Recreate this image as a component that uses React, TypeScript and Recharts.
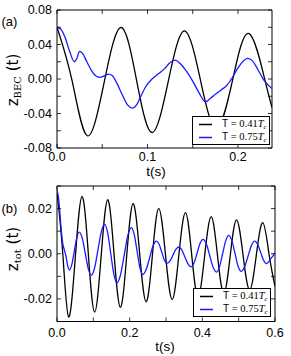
import { LineChart, Line, XAxis, YAxis, ReferenceArea, Label } from "recharts";

// panel (a): z_BEC(t)
const aBlackT = [0, 0.0169, 0.0338, 0.05225, 0.0707, 0.0879, 0.105, 0.1229, 0.1407, 0.1584, 0.176, 0.1939, 0.2117, 0.2294, 0.2376];
const aBlackZ = [0.06, -0.003, -0.066, -0.0032, 0.0597, -0.0012, -0.062, -0.003, 0.0559, -0.0006, -0.057, -0.002, 0.0529, 0.0004, -0.033];
const aBlueT = [0, 0.004, 0.009, 0.014, 0.0191, 0.022, 0.025, 0.028, 0.033, 0.038, 0.0423, 0.047, 0.052, 0.057, 0.061, 0.066, 0.072, 0.078, 0.0835, 0.088, 0.092, 0.098, 0.105, 0.112, 0.119, 0.125, 0.1307, 0.136, 0.143, 0.151, 0.157, 0.1639, 0.17, 0.175, 0.181, 0.1878, 0.194, 0.2, 0.206, 0.2106, 0.216, 0.222, 0.229, 0.2376];
const aBlueZ = [0.06, 0.058, 0.048, 0.032, 0.02, 0.024, 0.032, 0.03, 0.02, 0.01, 0.004, 0.002, 0.0035, 0.0057, 0.004, -0.0045, -0.018, -0.03, -0.0337, -0.03, -0.0215, -0.009, 0, 0.006, 0.012, 0.019, 0.0219, 0.018, 0.009, -0.0045, -0.016, -0.0264, -0.022, -0.0178, -0.013, -0.0072, 0.002, 0.013, 0.021, 0.0238, 0.021, 0.011, -0.002, -0.011];
const aXTicks = [0, 0.05, 0.1, 0.15, 0.2];
const aXLabels = ["0.0", "", "0.1", "", "0.2"];
const aYTicks = [-0.08, -0.06, -0.04, -0.02, 0, 0.02, 0.04, 0.06, 0.08];
const aYLabels = ["-0.08", "", "-0.04", "", "0.00", "", "0.04", "", "0.08"];

// panel (b): z_tot(t)
const bBlackT = [0, 0.016, 0.032, 0.0505, 0.0689, 0.0863, 0.1036, 0.1215, 0.1394, 0.1569, 0.1744, 0.1919, 0.2094, 0.2273, 0.2452, 0.2626, 0.28, 0.2984, 0.3168, 0.3351, 0.3534, 0.3707, 0.388, 0.4061, 0.4242, 0.4416, 0.459, 0.4765, 0.494, 0.512, 0.53, 0.5482, 0.5664, 0.5837, 0.6];
const bBlackZ = [0.0279, -0.0001, -0.028, -0.0014, 0.0253, -0.0003, -0.0258, -0.001, 0.0239, 0.0001, -0.0237, -0.0008, 0.0222, 0.0004, -0.0213, -0.0006, 0.0201, -0.0001, -0.0203, -0.001, 0.0182, -0.0004, -0.019, -0.0013, 0.0164, -0.0006, -0.0175, -0.0012, 0.015, -0.0005, -0.016, -0.0011, 0.0138, -0.0003, -0.0145];
const bBlueT = [0, 0.004, 0.008, 0.012, 0.016, 0.02, 0.024, 0.029, 0.034, 0.0409, 0.0477, 0.0546, 0.0614, 0.0697, 0.078, 0.0862, 0.0945, 0.1036, 0.1128, 0.1219, 0.131, 0.1395, 0.148, 0.1565, 0.165, 0.1749, 0.1849, 0.1948, 0.2047, 0.2125, 0.2204, 0.2282, 0.236, 0.2454, 0.2548, 0.2642, 0.2736, 0.281, 0.2883, 0.2957, 0.303, 0.311, 0.319, 0.327, 0.335, 0.3435, 0.352, 0.3605, 0.369, 0.3773, 0.3855, 0.3938, 0.402, 0.4112, 0.4205, 0.4297, 0.4389, 0.4474, 0.4558, 0.4643, 0.4727, 0.4813, 0.4899, 0.4984, 0.507, 0.5163, 0.5257, 0.535, 0.5443, 0.5524, 0.5605, 0.5685, 0.5766, 0.5825, 0.5883, 0.5942, 0.6];
const bBlueZ = [0.028, 0.025, 0.018, 0.01, 0.0045, 0.0018, -0.0005, -0.005, -0.0072, -0.0047, 0.0012, 0.0071, 0.0096, 0.0068, 0, -0.0067, -0.0095, -0.0062, 0.0018, 0.0097, 0.013, 0.0092, 0, -0.0091, -0.0129, -0.0093, -0.0007, 0.008, 0.0116, 0.0086, 0.0012, -0.0062, -0.0092, -0.007, -0.0018, 0.0034, 0.0056, 0.0042, 0.0007, -0.0029, -0.0043, -0.0032, -0.0007, 0.0019, 0.003, 0.0017, -0.0014, -0.0045, -0.0058, -0.004, 0.0003, 0.0046, 0.0064, 0.0043, -0.0009, -0.006, -0.0081, -0.0057, 0, 0.0057, 0.0081, 0.0058, 0.0002, -0.0055, -0.0078, -0.0058, -0.0011, 0.0036, 0.0056, 0.0041, 0.0006, -0.0029, -0.0044, -0.0036, -0.0022, -0.001, 0.0004];
const bXTicks = [0, 0.1, 0.2, 0.3, 0.4, 0.5, 0.6];
const bXLabels = ["0.0", "", "0.2", "", "0.4", "", "0.6"];
const bYTicks = [-0.03, -0.02, -0.01, 0, 0.01, 0.02, 0.03];
const bYLabels = ["", "-0.02", "", "0.00", "", "0.02", ""];

const tempNames = ["0.41", "0.75"];
const colors = ["#000000", "#1a1aff"];

const zip = (t: number[], z: number[]) => t.map((v, i) => ({ t: v, z: z[i] }));

const SANS = "Liberation Sans";
const SERIF = "Liberation Serif";

function xTick(labels: string[], plotH: number, dy: number) {
  return (p: any) => {
    const { x, y, index } = p;
    return (
      <g>
        <line x1={x} x2={x} y1={y} y2={y - 4} stroke="#000" strokeWidth={0.8} />
        <line x1={x} x2={x} y1={y - plotH} y2={y - plotH + 4} stroke="#000" strokeWidth={0.8} />
        {labels[index] ? (
          <text x={x} y={y + dy} textAnchor="middle" fontFamily={SANS} fontSize={12.5} fill="#000">{labels[index]}</text>
        ) : null}
      </g>
    );
  };
}

function yTick(labels: string[], plotW: number) {
  return (p: any) => {
    const { x, y, index } = p;
    return (
      <g>
        <line x1={x} x2={x + 4} y1={y} y2={y} stroke="#000" strokeWidth={0.8} />
        <line x1={x + plotW} x2={x + plotW - 4} y1={y} y2={y} stroke="#000" strokeWidth={0.8} />
        {labels[index] ? (
          <text x={x - 5} y={y + 4.4} textAnchor="end" fontFamily={SANS} fontSize={12.5} fill="#000">{labels[index]}</text>
        ) : null}
      </g>
    );
  };
}

function yLabel(sub: string, cy: number) {
  return () => (
    <text transform={`translate(17.5, ${cy}) rotate(-90)`} textAnchor="middle" fontFamily="DejaVu Sans" fontSize={15} fill="#000">
      z<tspan fontFamily="DejaVu Serif" fontSize={10} dy={3}>{sub}</tspan>
      <tspan dy={-3}> (t)</tspan>
    </text>
  );
}

function xLabel(cx: number, y: number) {
  return () => (
    <text x={cx} y={y} textAnchor="middle" fontFamily={SANS} fontSize={13.5} fill="#000">t(s)</text>
  );
}

function LegendBox({ left, top }: { left: number; top: number }) {
  return (
    <div style={{ position: "absolute", zIndex: 10, left, top, width: 78, height: 29, border: "1px solid #000", background: "#fff", boxSizing: "border-box" }}>
      <svg width={24} height={27} style={{ position: "absolute", left: 0, top: 0 }}>
        {tempNames.map((n, i) => (
          <line key={n} x1={6} x2={19} y1={7.5 + i * 13} y2={7.5 + i * 13} stroke={colors[i]} strokeWidth={1.5} />
        ))}
      </svg>
      {tempNames.map((n, i) => (
        <div key={n} style={{ position: "absolute", left: 29, top: 1 + i * 13, lineHeight: "12px", fontSize: 10, whiteSpace: "nowrap", color: "#000" }}>
          <span style={{ fontFamily: SANS }}>T</span>
          <span style={{ fontFamily: SERIF, fontSize: 10.5 }}> = {n}</span>
          <span style={{ fontFamily: SERIF, fontSize: 10.5, fontStyle: "italic" }}>T</span>
          <span style={{ fontFamily: SERIF, fontSize: 7, fontStyle: "italic", position: "relative", top: 2 }}>c</span>
        </div>
      ))}
    </div>
  );
}

export default function App() {
  const aW = 215, aH = 138;
  const bW = 218, bH = 135.5;
  return (
    <div style={{ position: "absolute", left: 0, top: 0, width: 291, height: 356, background: "#fff" }}>
      <div style={{ position: "absolute", left: 0, top: 0, width: 291, height: 180 }}>
        <LineChart width={291} height={180} margin={{ top: 10, right: 19, left: 0, bottom: 0 }}>
          <XAxis dataKey="t" type="number" domain={[0, 0.2376]} allowDataOverflow ticks={aXTicks} interval={0}
            tickSize={0} tickMargin={0} axisLine={false} tickLine={false} height={32} tick={xTick(aXLabels, aH, 12.5)}>
            <Label content={xLabel(156, 176)} />
          </XAxis>
          <YAxis type="number" domain={[-0.08, 0.08]} allowDataOverflow ticks={aYTicks} interval={0}
            tickSize={0} tickMargin={0} axisLine={false} tickLine={false} width={57} tick={yTick(aYLabels, aW)}>
            <Label content={yLabel("BEC", 80)} />
          </YAxis>
          <ReferenceArea x1={0} x2={0.2376} y1={-0.08} y2={0.08} fill="none" stroke="#000" strokeWidth={1} />
          <Line data={zip(aBlackT, aBlackZ)} dataKey="z" type="natural" stroke={colors[0]} strokeWidth={1.3} dot={false} isAnimationActive={false} />
          <Line data={zip(aBlueT, aBlueZ)} dataKey="z" type="monotone" stroke={colors[1]} strokeWidth={1.3} dot={false} isAnimationActive={false} />
        </LineChart>
        <LegendBox left={192} top={116} />
      </div>
      <div style={{ position: "absolute", left: 0, top: 180, width: 291, height: 176 }}>
        <LineChart width={291} height={176} margin={{ top: 6, right: 16, left: 0, bottom: 0 }}>
          <XAxis dataKey="t" type="number" domain={[0, 0.6]} allowDataOverflow ticks={bXTicks} interval={0}
            tickSize={0} tickMargin={0} axisLine={false} tickLine={false} height={34.5} tick={xTick(bXLabels, bH, 15)}>
            <Label content={xLabel(165, 171)} />
          </XAxis>
          <YAxis type="number" domain={[-0.03, 0.03]} allowDataOverflow ticks={bYTicks} interval={0}
            tickSize={0} tickMargin={0} axisLine={false} tickLine={false} width={57} tick={yTick(bYLabels, bW)}>
            <Label content={yLabel("tot", 69)} />
          </YAxis>
          <ReferenceArea x1={0} x2={0.6} y1={-0.03} y2={0.03} fill="none" stroke="#000" strokeWidth={1} />
          <Line data={zip(bBlackT, bBlackZ)} dataKey="z" type="natural" stroke={colors[0]} strokeWidth={1.3} dot={false} isAnimationActive={false} />
          <Line data={zip(bBlueT, bBlueZ)} dataKey="z" type="monotone" stroke={colors[1]} strokeWidth={1.3} dot={false} isAnimationActive={false} />
        </LineChart>
        <LegendBox left={193} top={108} />
      </div>
      <svg width={291} height={356} style={{ position: "absolute", left: 0, top: 0, pointerEvents: "none" }}>
        <text x={1.5} y={26} fontFamily={SANS} fontSize={13} fill="#000">(a)</text>
        <text x={1.5} y={213} fontFamily={SANS} fontSize={13} fill="#000">(b)</text>
      </svg>
    </div>
  );
}
